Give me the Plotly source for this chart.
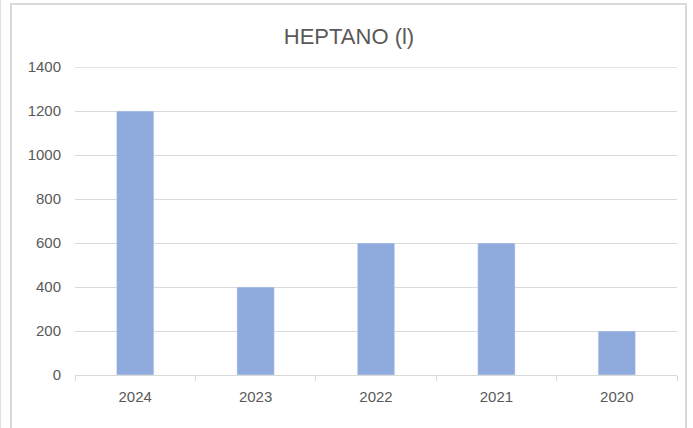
import plotly.graph_objects as go

years = ["2024", "2023", "2022", "2021", "2020"]
values = [1200, 400, 600, 600, 200]
y_ticks = [0, 200, 400, 600, 800, 1000, 1200, 1400]

W, H = 693, 428
L, R, T, B = 75, 16, 67, 53
pw, ph = W - L - R, H - T - B

def px_x(x):
    return (x - L) / pw

def px_y(y):
    return (H - B - y) / ph

FONT = "Liberation Sans, Arial, sans-serif"
GRAY = "#d9d9d9"

fig = go.Figure(go.Bar(x=years, y=values, marker_color="#8FAADC", width=0.31))

fig.update_layout(
    width=W, height=H,
    margin=dict(l=L, r=R, t=T, b=B),
    paper_bgcolor="white", plot_bgcolor="white",
    showlegend=False,
    font=dict(family=FONT, color="#595959", size=15),
    title=dict(text="HEPTANO (l)", x=349 / W, xanchor="center",
               y=1 - 36 / H, yanchor="middle",
               font=dict(size=22, color="#595959", family=FONT)),
    xaxis=dict(type="category", showline=True, linecolor=GRAY, linewidth=1,
               ticks="outside", tickson="boundaries", ticklen=5, tickcolor=GRAY,
               showgrid=False, tickfont=dict(size=15, color="#595959"),
               ticklabelstandoff=8),
    yaxis=dict(range=[0, 1400], tickvals=y_ticks, showgrid=True, gridcolor=GRAY,
               gridwidth=1, zeroline=False, showline=False, ticks="",
               ticklabelstandoff=13, tickfont=dict(size=15, color="#595959")),
    shapes=[
        dict(type="rect", xref="paper", yref="paper",
             x0=px_x(11), x1=px_x(686), y0=px_y(440), y1=px_y(4),
             line=dict(color=GRAY, width=2), fillcolor="rgba(0,0,0,0)", layer="below"),
        dict(type="line", xref="paper", yref="paper",
             x0=px_x(0.5), x1=px_x(0.5), y0=px_y(0), y1=px_y(428),
             line=dict(color="#e0e0e0", width=1), layer="below"),
        dict(type="line", xref="paper", yref="y",
             x0=0, x1=1, y0=y_ticks[-1], y1=y_ticks[-1],
             line=dict(color=GRAY, width=1.5), layer="above"),
    ],
)

fig.write_html("out.html", config={"displayModeBar": False},
               post_script="document.body.style.margin='0';document.body.style.overflow='hidden';")
